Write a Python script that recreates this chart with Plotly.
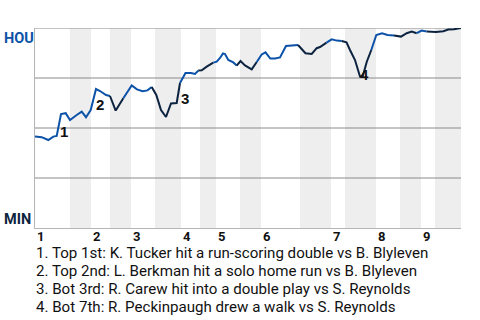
import plotly.graph_objects as go

# ---- data (x: game progress units, y: HOU win probability) ----
wp_x = [0, 6.7, 13.3, 18.3, 21.7, 26, 30.7, 35, 41.7, 46.7, 51, 55.7, 61, 65, 71, 75,
        80.7, 88.3, 96.7, 102, 107.5, 112.5, 116.7, 121.3, 126, 131, 136, 141.7, 145,
        150.5, 156, 160, 163.3, 166.7, 171.7, 178.3, 181.7, 185, 188, 190, 193.3, 198.3,
        201.7, 205.5, 210, 215, 216.7, 221.7, 226.7, 230.5, 235.3, 240, 245, 251, 257,
        263, 265.7, 270.5, 276.7, 281.7, 285, 291.5, 296.7, 301.7, 306.7, 311.5, 315,
        320, 325, 327.7, 331.7, 336.3, 341.3, 347, 352.5, 359, 366, 371.7, 376.7, 381.7,
        386.7, 391.7, 401, 408.3, 413.3, 419, 426]
wp_y = [0.458, 0.454, 0.44, 0.457, 0.46, 0.57, 0.574, 0.54, 0.565, 0.582, 0.554, 0.59,
        0.695, 0.685, 0.665, 0.66, 0.587, 0.649, 0.713, 0.693, 0.684, 0.688, 0.705, 0.665,
        0.59, 0.555, 0.623, 0.625, 0.725, 0.775, 0.775, 0.77, 0.787, 0.789, 0.807, 0.827,
        0.832, 0.85, 0.873, 0.87, 0.84, 0.828, 0.812, 0.835, 0.813, 0.80, 0.793, 0.83,
        0.868, 0.878, 0.847, 0.848, 0.853, 0.91, 0.914, 0.915, 0.902, 0.874, 0.87, 0.899,
        0.905, 0.927, 0.943, 0.937, 0.935, 0.928, 0.89, 0.84, 0.757, 0.757, 0.83, 0.89,
        0.965, 0.974, 0.965, 0.962, 0.957, 0.974, 0.982, 0.974, 0.987, 0.982, 0.98, 0.984,
        0.992, 0.994, 1.0]

# half-inning start positions (top1, bot1, top2, bot2, ...) and game end
half_starts = [0, 35, 56, 75, 96, 120, 146, 165, 181, 205, 226, 265, 296, 310, 341, 365, 386, 400]
game_end = 426
# team whose colour the line takes in each half-inning (as drawn in the source)
half_line_team = ["HOU", "HOU", "HOU", "MIN", "HOU", "MIN", "HOU", "MIN", "HOU",
                  "MIN", "HOU", "MIN", "HOU", "MIN", "HOU", "MIN", "HOU", "MIN"]
inning_labels = ["1", "2", "3", "4", "5", "6", "7", "8", "9"]

event_idx = [5, 12, 28, 69]
events = [
    "1. Top 1st: K. Tucker hit a run-scoring double vs B. Blyleven",
    "2. Top 2nd: L. Berkman hit a solo home run vs B. Blyleven",
    "3. Bot 3rd: R. Carew hit into a double play vs S. Reynolds",
    "4. Bot 7th: R. Peckinpaugh drew a walk vs S. Reynolds",
]

# ---- styles ----
team_color = {"HOU": "#0b52a8", "MIN": "#0c2340"}
label_shift = [(2.5, -17), (3.5, -15.5), (4.5, -15.5), (2, 2)]

fig = go.Figure()

def half_of(x):
    h = 0
    for i, s in enumerate(half_starts):
        if x > s:
            h = i
    return h

segs = []
for i in range(1, len(wp_x)):
    team = half_line_team[half_of(wp_x[i])]
    if segs and segs[-1][0] == team:
        segs[-1][1].append(i)
    else:
        segs.append((team, [i - 1, i]))

for team, idxs in segs:
    fig.add_trace(go.Scatter(
        x=[wp_x[i] for i in idxs], y=[wp_y[i] for i in idxs],
        mode="lines", line=dict(color=team_color[team], width=2),
        hoverinfo="skip", showlegend=False))

shapes = []
for k in range(1, len(half_starts), 2):
    x0 = half_starts[k]
    x1 = half_starts[k + 1] if k + 1 < len(half_starts) else game_end
    shapes.append(dict(type="rect", xref="x", yref="paper", x0=x0, x1=x1, y0=0, y1=1,
                       fillcolor="#eeeeee", line=dict(width=0), layer="below"))
for g in [0.25, 0.5, 0.75, 1.0]:
    shapes.append(dict(type="line", xref="paper", yref="y", x0=0, x1=1, y0=g, y1=g,
                       line=dict(color="#8a8a8a", width=1), layer="below"))

annotations = []
annotations.append(dict(text="<b>HOU</b>", xref="paper", yref="paper", x=-0.0775, y=1.0,
                        xanchor="left", yanchor="top", yshift=0, showarrow=False,
                        font=dict(family="Roboto", size=14.5, color=team_color["HOU"])))
annotations.append(dict(text="<b>MIN</b>", xref="paper", yref="paper", x=-0.0775, y=0.0,
                        xanchor="left", yanchor="bottom", yshift=-2, showarrow=False,
                        font=dict(family="Roboto", size=14.5, color=team_color["MIN"])))
for lab, k in zip(inning_labels, range(0, len(half_starts), 2)):
    annotations.append(dict(text="<b>%s</b>" % lab, xref="x", yref="paper", x=half_starts[k], y=0,
                            xanchor="left", yanchor="top", yshift=1, showarrow=False,
                            font=dict(family="Roboto", size=13, color="#111111")))
for n, (ei, (dx, dy)) in enumerate(zip(event_idx, label_shift)):
    annotations.append(dict(text="<b>%d</b>" % (n + 1), x=wp_x[ei], y=wp_y[ei], xref="x", yref="y",
                            xshift=dx, yshift=dy, showarrow=False,
                            font=dict(family="Liberation Sans, Arial", size=15, color="#111111")))
for n, txt in enumerate(events):
    annotations.append(dict(text=txt, xref="paper", yref="paper", x=-0.0023, y=-0.127 - n * 0.09,
                            xanchor="left", yanchor="middle", showarrow=False,
                            font=dict(family="Roboto", size=15.1, color="#111111")))

fig.update_layout(
    width=480, height=320,
    margin=dict(l=35, r=19, t=28, b=92),
    paper_bgcolor="white", plot_bgcolor="white",
    shapes=shapes, annotations=annotations,
    xaxis=dict(range=[0, game_end], showgrid=False, zeroline=False, showticklabels=False,
               showline=True, linecolor="#b5b5b5", linewidth=1, ticks=""),
    yaxis=dict(range=[0, 1], showgrid=False, zeroline=False, showticklabels=False,
               showline=True, linecolor="#b5b5b5", linewidth=1, ticks=""),
)

fig.write_html("out.html")
